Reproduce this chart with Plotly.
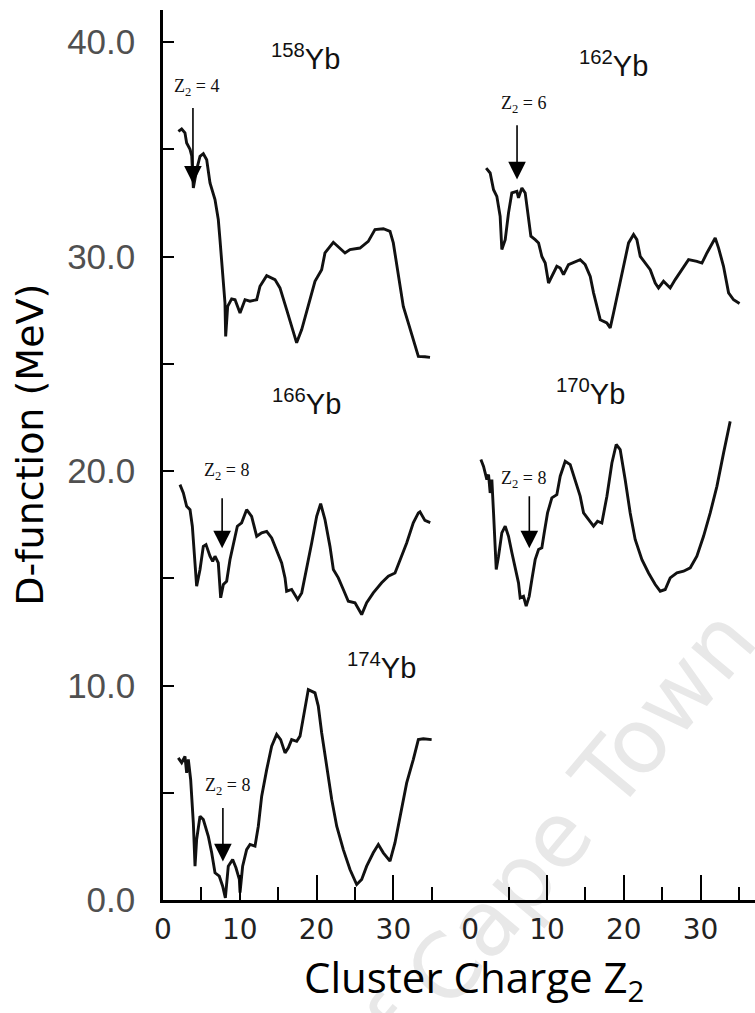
import plotly.graph_objects as go

# ---------------- data ----------------
z158 = [2.0, 2.43, 2.86, 3.08, 3.52, 3.74, 3.95, 4.38, 4.82, 5.25, 5.69, 6.12, 6.77, 7.2, 7.42, 7.64, 7.86, 8.07, 8.16,
        8.42, 8.94, 9.38, 10.03, 10.68, 11.33, 12.2, 12.63, 13.5, 14.58, 15.23, 16.1, 16.75, 17.4, 18.06, 18.92, 19.79,
        20.66, 21.09, 22.18, 23.7, 24.35, 25.65, 26.73, 27.6, 28.69, 29.56, 29.99, 30.64, 31.29, 31.94, 32.59, 33.25,
        34.1, 34.77]
d158 = [35.84, 35.95, 35.77, 35.3, 35.0, 34.7, 33.2, 34.06, 34.68, 34.8, 34.52, 33.44, 32.66, 31.73, 30.79, 29.86, 28.77,
        27.84, 26.28, 27.68, 28.03, 27.99, 27.37, 27.99, 27.92, 27.99, 28.62, 29.11, 28.93, 28.54, 27.53, 26.75, 25.98,
        26.6, 27.68, 28.85, 29.39, 30.17, 30.67, 30.17, 30.33, 30.4, 30.71, 31.26, 31.3, 31.18, 30.64, 29.24, 27.68,
        26.91, 26.13, 25.35, 25.33, 25.3]

z162 = [2.08, 2.6, 3.04, 3.47, 3.9, 4.12, 4.56, 4.99, 5.42, 6.08, 6.29, 6.73, 7.16, 7.6, 7.9, 8.46, 8.9, 9.33, 9.77,
        10.2, 10.63, 11.28, 11.72, 12.15, 12.8, 13.67, 14.32, 14.97, 15.63, 16.06, 16.49, 16.93, 17.79, 18.23, 18.66,
        19.31, 19.96, 20.62, 21.27, 21.7, 22.14, 22.79, 23.44, 24.09, 24.52, 25.17, 26.04, 26.69, 27.56, 28.43, 29.51,
        30.17, 30.82, 31.9, 32.34, 32.98, 33.64, 34.29, 35.07]
d162 = [34.13, 33.9, 33.12, 32.81, 31.88, 30.33, 30.79, 32.04, 32.97, 33.04, 32.74, 33.2, 32.97, 31.88, 30.95, 30.79,
        30.64, 30.01, 29.7, 28.77, 29.08, 29.55, 29.47, 29.16, 29.63, 29.78, 29.86, 29.63, 29.08, 28.31, 27.68, 27.06,
        26.91, 26.68, 27.37, 28.46, 29.55, 30.64, 31.03, 30.79, 30.01, 29.7, 29.39, 28.77, 28.54, 28.85, 28.54, 28.93,
        29.39, 29.86, 29.78, 29.7, 30.17, 30.87, 30.4, 29.55, 28.31, 27.99, 27.81]

z166 = [2.21, 2.65, 3.08, 3.52, 3.82, 4.17, 4.38, 4.82, 5.25, 5.6, 6.12, 6.47, 6.77, 7.2, 7.51, 7.86, 8.29, 8.72, 9.16,
        9.68, 10.24, 10.89, 11.54, 12.2, 12.85, 13.5, 14.15, 14.8, 15.45, 15.89, 16.1, 16.75, 17.54, 18.06, 18.71,
        19.36, 20.01, 20.53, 21.09, 21.74, 22.18, 22.83, 23.48, 24.13, 25.0, 25.87, 26.52, 27.38, 28.47, 29.34, 30.21,
        30.86, 31.73, 32.59, 33.25, 33.46, 34.1, 34.8]
d166 = [19.37, 18.98, 18.36, 18.2, 17.43, 15.72, 14.63, 15.41, 16.49, 16.57, 16.03, 15.79, 16.03, 15.72, 14.09, 14.71,
        14.86, 15.87, 16.65, 17.43, 17.59, 18.2, 17.89, 16.96, 17.12, 17.19, 16.88, 16.34, 15.72, 15.02, 14.4, 14.48,
        14.01, 14.32, 15.41, 16.65, 17.89, 18.48, 17.74, 16.49, 15.41, 15.02, 14.48, 13.93, 13.86, 13.31, 13.86, 14.32,
        14.79, 15.1, 15.25, 15.87, 16.65, 17.59, 18.05, 18.1, 17.7, 17.6]

z170 = [1.39, 1.74, 2.17, 2.39, 2.6, 2.82, 3.04, 3.26, 3.39, 3.69, 4.12, 4.56, 4.99, 5.43, 5.86, 6.29, 6.51, 6.94, 7.29,
        7.68, 8.03, 8.46, 8.9, 9.33, 9.64, 10.07, 10.63, 11.28, 11.72, 12.37, 13.02, 13.67, 14.32, 14.76, 15.41, 16.06,
        16.58, 17.14, 17.8, 18.45, 19.01, 19.53, 20.18, 20.83, 21.48, 22.36, 23.22, 24.09, 24.74, 25.39, 26.04, 26.91,
        27.78, 28.65, 29.51, 30.38, 31.25, 32.12, 32.99, 33.85]
d170 = [20.54, 20.22, 19.6, 19.84, 18.98, 19.6, 18.05, 16.49, 15.41, 16.03, 17.12, 17.43, 16.96, 16.19, 15.56, 14.79,
        14.09, 14.16, 13.7, 14.16, 14.94, 15.87, 16.34, 16.42, 17.12, 18.05, 18.75, 18.9, 19.76, 20.46, 20.3, 19.6,
        18.83, 18.05, 17.74, 17.43, 17.66, 17.58, 18.83, 20.38, 21.24, 21.0, 19.6, 18.05, 16.81, 15.87, 15.25, 14.71,
        14.4, 14.48, 15.02, 15.25, 15.33, 15.49, 16.03, 16.96, 18.05, 19.29, 20.85, 22.32]

z174 = [1.99, 2.43, 2.86, 3.08, 3.3, 3.6, 3.95, 4.17, 4.38, 4.82, 5.25, 5.9, 6.34, 6.77, 7.33, 7.77, 8.12, 8.5, 9.07,
        9.5, 9.94, 10.03, 10.37, 10.89, 11.33, 11.98, 12.41, 12.85, 13.5, 14.15, 14.8, 15.32, 15.89, 16.32, 16.75,
        17.41, 17.84, 18.49, 18.92, 19.79, 20.22, 20.66, 21.31, 21.97, 22.62, 23.48, 24.35, 25.22, 25.87, 26.52, 27.38,
        28.04, 28.69, 29.56, 30.21, 30.86, 31.73, 32.59, 33.25, 33.9, 34.98]
d174 = [6.63, 6.4, 6.7, 5.93, 6.55, 5.62, 3.6, 1.58, 2.82, 3.91, 3.75, 2.97, 2.2, 1.27, 1.11, 0.64, 0.1, 1.58, 1.89,
        1.5, 0.96, 0.34, 1.58, 2.35, 2.59, 2.51, 3.44, 4.84, 6.08, 7.17, 7.72, 7.48, 6.86, 7.1, 7.48, 7.4, 7.64, 9.04,
        9.81, 9.66, 9.04, 7.8, 6.24, 4.69, 3.44, 2.35, 1.42, 0.72, 0.96, 1.58, 2.2, 2.59, 2.2, 1.81, 2.67, 3.91, 5.46,
        6.55, 7.48, 7.52, 7.48]

x_ticks = [0, 10, 20, 30]
x_tick_text = ["0", "10", "20", "30"]
x_minor = [5, 15, 25, 35]
y_ticks = [0, 10, 20, 30, 40]
y_tick_text = ["0.0", "10.0", "20.0", "30.0", "40.0"]
y_minor = [5, 15, 25, 35]

# isotope labels: (text, x, y, axis)
iso_labels = [("158", 18.5, 39.3, "x"), ("162", 18.6, 39.0, "x2"), ("166", 18.75, 23.2, "x"),
              ("170", 15.6, 23.7, "x2"), ("174", 28.5, 10.9, "x")]
# Z2 markers: (value, arrow x, tip y, tail y, text x, text y, axis)
z2_marks = [(4, 3.9, 33.4, 37.0, 4.4, 37.9, "x"), (6, 6.1, 33.6, 36.2, 6.9, 37.1, "x2"),
            (8, 7.7, 16.4, 18.8, 8.3, 20.0, "x"), (8, 7.7, 16.4, 18.9, 6.9, 19.6, "x2"),
            (8, 7.8, 1.8, 4.36, 8.4, 5.3, "x")]

# ---------------- figure ----------------
fig = go.Figure()
line = dict(color="#111111", width=2.9)
for xs, ys, ax in [(z158, d158, "x"), (z162, d162, "x2"), (z166, d166, "x"),
                   (z170, d170, "x2"), (z174, d174, "x")]:
    fig.add_trace(go.Scatter(x=xs, y=ys, xaxis=ax, yaxis="y", mode="lines",
                             line=line, showlegend=False, hoverinfo="skip"))

split = 0.5189
xcommon = dict(showline=True, linecolor="black", linewidth=2.5, ticks="inside", ticklen=25,
               tickwidth=2, tickcolor="black", tickvals=x_ticks, ticktext=x_tick_text,
               minor=dict(tickvals=x_minor, ticks="inside", ticklen=13, tickwidth=2, tickcolor="black"),
               showgrid=False, zeroline=False, anchor="y", ticklabelstandoff=3,
               tickfont=dict(family="DejaVu Sans", size=28, color="#222222"))

fig.update_layout(
    width=755, height=1013, plot_bgcolor="white", paper_bgcolor="white",
    margin=dict(l=163, r=0, t=10, b=113),
    xaxis=dict(domain=[0, split], range=[0, 40], **xcommon),
    xaxis2=dict(domain=[split, 1], range=[0, 37.08], **xcommon),
    yaxis=dict(domain=[0, 1], range=[0, 41.5], anchor="x", showline=True, linecolor="black",
               linewidth=2.5, ticks="inside", ticklen=11, tickwidth=2, tickcolor="black",
               tickvals=y_ticks, ticktext=y_tick_text,
               minor=dict(tickvals=y_minor, ticks="inside", ticklen=11, tickwidth=2, tickcolor="black"),
               showgrid=False, zeroline=False, ticklabelstandoff=18,
               tickfont=dict(family="Liberation Sans", size=35, color="#505050")),
)

ann = []
for num, x, y, ax in iso_labels:
    ann.append(dict(text=f"<sup>{num}</sup>Yb", x=x, y=y, xref=ax, yref="y", showarrow=False,
                    font=dict(family="Liberation Sans", size=29, color="#111111")))
for val, axx, tip, tail, tx, ty, ax in z2_marks:
    ann.append(dict(text="", x=axx, y=tip, ax=axx, ay=tail, xref=ax, yref="y", axref=ax, ayref="y",
                    showarrow=True, arrowhead=2, arrowsize=2.2, arrowwidth=1.6, arrowcolor="black",
                    standoff=0))
    ann.append(dict(text=f"Z<sub>2</sub> = {val}", x=tx, y=ty, xref=ax, yref="y", showarrow=False,
                    font=dict(family="Liberation Serif", size=18, color="#111111")))
ann.append(dict(text="Cluster Charge Z<sub>2</sub>", x=0.525, y=-0.089, xref="paper", yref="paper",
                showarrow=False, xanchor="center", yanchor="middle",
                font=dict(family="Open Sans", size=42, color="black")))
ann.append(dict(text="D-function (MeV)", x=-0.2247, y=0.5115, xref="paper", yref="paper",
                showarrow=False, textangle=-90, xanchor="center", yanchor="middle",
                font=dict(family="DejaVu Sans", size=38, color="black")))
fig.update_layout(annotations=ann)

# faint watermark underneath the data
fig.add_shape(type="rect", xref="paper", yref="paper", x0=0.363, x1=0.383, y0=-0.159, y1=-0.139,
              line=dict(width=0), fillcolor="rgba(0,0,0,0)", layer="below",
              label=dict(text="University of Cape Town", textangle=-50, textposition="middle center",
                         font=dict(family="DejaVu Sans", size=90, color="#e8e8e8")))

fig.write_html("out.html")
